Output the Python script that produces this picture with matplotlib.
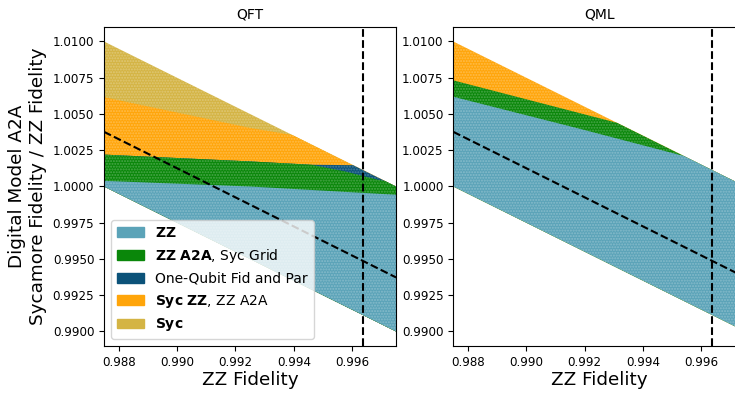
import matplotlib.pyplot as plt
from matplotlib.patches import Patch
from matplotlib.ticker import FormatStrFormatter

# band of explored points: ratio lies between these two lines
x_span = [0.9875, 0.9975]
top_edge = [1.0100, 1.0000]
bottom_edge = [1.0000, 0.9900]

# reference lines
diag_x = [0.9875, 0.9975]
diag_y = [1.00377, 0.99373]
zz_fid_now = 0.99636

# QFT region boundaries (upper edge of each region)
qft_orange_x = [0.9875, 0.9925, 0.99395]
qft_orange_y = [1.00616, 1.00404, 1.00355]
qft_dkblue_x = [0.9875, 0.9925, 0.9946, 0.99603]
qft_dkblue_y = [1.00220, 1.00173, 1.00150, 1.00147]
qft_green_x = [0.9875, 0.9925, 0.9946, 0.99575, 0.99689, 0.99712]
qft_green_y = [1.00220, 1.00173, 1.00150, 1.00104, 1.00046, 1.00038]
qft_zz_x = [0.9875, 0.9925, 0.9975]
qft_zz_y = [1.00039, 1.00000, 0.99943]

# QML region boundaries
qml_green_x = [0.9875, 0.99311]
qml_green_y = [1.00732, 1.00439]
qml_zz_x = [0.9875, 0.99185, 0.9954]
qml_zz_y = [1.00619, 1.00397, 1.00210]

c_zz = '#5ba3b8'
c_green = '#0a870a'
c_dkblue = '#0b5279'
c_orange = '#ffa50a'
c_syc = '#d4b444'

plt.rcParams['font.size'] = 8.6

fig = plt.figure(figsize=(7.35, 3.93), dpi=100)
ax1 = fig.add_axes([0.1415, 0.1196, 0.3973, 0.8117])
ax2 = fig.add_axes([0.6167, 0.1196, 0.3973, 0.8117])


def fill_below(ax, bx, by, color):
    # everything in the band under the boundary, following the top edge after it
    xs = list(bx) + [x_span[1], x_span[1], x_span[0]]
    ys = list(by) + [top_edge[1], bottom_edge[1], bottom_edge[0]]
    ax.fill(xs, ys, facecolor=color, edgecolor=(1, 1, 1, 0.25),
            hatch='......', linewidth=0)


# QFT
fill_below(ax1, x_span, top_edge, c_syc)
fill_below(ax1, qft_orange_x, qft_orange_y, c_orange)
fill_below(ax1, qft_dkblue_x, qft_dkblue_y, c_dkblue)
fill_below(ax1, qft_green_x, qft_green_y, c_green)
fill_below(ax1, qft_zz_x, qft_zz_y, c_zz)

# QML
fill_below(ax2, x_span, top_edge, c_orange)
fill_below(ax2, qml_green_x, qml_green_y, c_green)
fill_below(ax2, qml_zz_x, qml_zz_y, c_zz)

for ax, name in [(ax1, 'QFT'), (ax2, 'QML')]:
    ax.plot(diag_x, diag_y, 'k--', lw=1.5)
    ax.axvline(zz_fid_now, color='k', ls='--', lw=1.5)
    ax.set_xlim(0.9875, 0.9975)
    ax.set_ylim(0.989, 1.011)
    ax.set_xticks([0.988, 0.990, 0.992, 0.994, 0.996])
    ax.set_yticks([0.99, 0.9925, 0.995, 0.9975, 1.0, 1.0025, 1.005, 1.0075, 1.01])
    ax.xaxis.set_major_formatter(FormatStrFormatter('%.3f'))
    ax.yaxis.set_major_formatter(FormatStrFormatter('%.4f'))
    ax.set_title(name, fontsize=10)
    ax.set_xlabel('ZZ Fidelity', fontsize=13.2, labelpad=2)

ax1.set_ylabel('Digital Model A2A\nSycamore Fidelity / ZZ Fidelity', fontsize=13.2)

handles = [Patch(color=c_zz), Patch(color=c_green), Patch(color=c_dkblue),
           Patch(color=c_orange), Patch(color=c_syc)]
labels = [r'$\bf{ZZ}$', r'$\bf{ZZ\ A2A}$, Syc Grid', 'One-Qubit Fid and Par',
          r'$\bf{Syc\ ZZ}$, ZZ A2A', r'$\bf{Syc}$']
ax1.legend(handles, labels, loc='lower left', fontsize=10)

fig.savefig('out.png', dpi=100)
